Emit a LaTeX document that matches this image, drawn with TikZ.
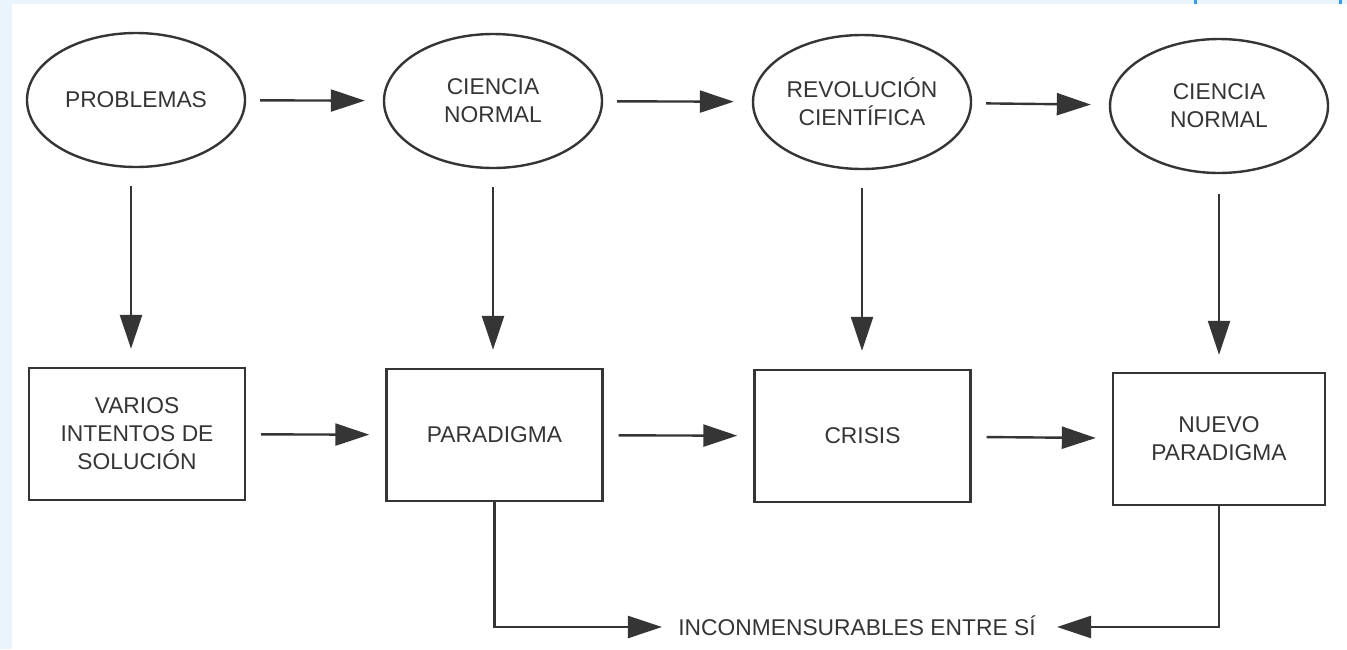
\documentclass[tikz,border=0pt]{standalone}
\usepackage{fontspec}
\setmainfont{Liberation Sans}
\usetikzlibrary{shapes.geometric,arrows.meta}
\definecolor{ink}{HTML}{353535}
\definecolor{framecol}{HTML}{EAF4FC}
\definecolor{tickcol}{HTML}{3A9BEA}
\begin{document}
\begin{tikzpicture}[x=0.5pt,y=-0.5pt,
  lbl/.style={font=\fontsize{11.4}{14}\selectfont, text=ink, align=center},
  oval/.style={ellipse, draw=ink, line width=1.2pt, minimum width=109pt, minimum height=67pt, inner sep=0pt, lbl},
  boxn/.style={rectangle, draw=ink, line width=1.2pt, minimum width=108pt, minimum height=66pt, inner sep=0pt, lbl},
  arr/.style={draw=ink, line width=1.2pt, -{Triangle[length=17pt,width=11pt]}}]
\useasboundingbox (0,0) rectangle (1347,649);
\fill[white] (0,0) rectangle (1347,649);
\fill[framecol] (0,0) rectangle (12,649);
\fill[framecol] (0,0) rectangle (1347,4);
\fill[tickcol] (1194,0) rectangle (1197,4);
\fill[tickcol] (1339,0) rectangle (1342,4);

\node[oval] (e1) at (136,100) {PROBLEMAS};
\node[oval] (e2) at (493,101) {CIENCIA\\NORMAL};
\node[oval] (e3) at (862,102) {REVOLUCIÓN\\CIENTÍFICA};
\node[oval] (e4) at (1219,106) {CIENCIA\\NORMAL};

\node[boxn] (b1) at (137,434) {VARIOS\\INTENTOS DE\\SOLUCIÓN};
\node[boxn] (b2) at (494.5,435) {PARADIGMA};
\node[boxn] (b3) at (862.5,436) {CRISIS};
\node[boxn, minimum width=106pt] (b4) at (1219,439) {NUEVO\\PARADIGMA};

\node[lbl, inner sep=0pt, anchor=base] (t) at (857,635) {INCONMENSURABLES ENTRE SÍ};

% top row
\draw[arr, shorten <=7pt, shorten >=9pt] (e1) -- (e2);
\draw[arr, shorten <=7pt, shorten >=9pt] (e2) -- (e3);
\draw[arr, shorten <=7pt, shorten >=9pt] (e3) -- (e4);
% middle row
\draw[arr, shorten <=7.5pt, shorten >=8pt] (b1) -- (b2);
\draw[arr, shorten <=7.5pt, shorten >=8pt] (b2) -- (b3);
\draw[arr, shorten <=7.5pt, shorten >=8pt] (b3) -- (b4);
% verticals
\draw[arr, shorten <=9pt, shorten >=9pt] ([xshift=-2.5pt]e1.south) -- ([xshift=-2.5pt]e1.south |- b1.north);
\draw[arr, shorten <=9pt, shorten >=9pt] (e2.south) -- (e2.south |- b2.north);
\draw[arr, shorten <=9pt, shorten >=9pt] (e3.south) -- (e3.south |- b3.north);
\draw[arr, shorten <=10pt, shorten >=8.5pt] (e4.south) -- (e4.south |- b4.north);
% bottom
\draw[arr, shorten >=8pt] (b2.south) |- ([yshift=4pt]t.base west);
\draw[arr, shorten >=10.5pt] (b4.south) |- ([yshift=4pt]t.base east);
\end{tikzpicture}
\end{document}
